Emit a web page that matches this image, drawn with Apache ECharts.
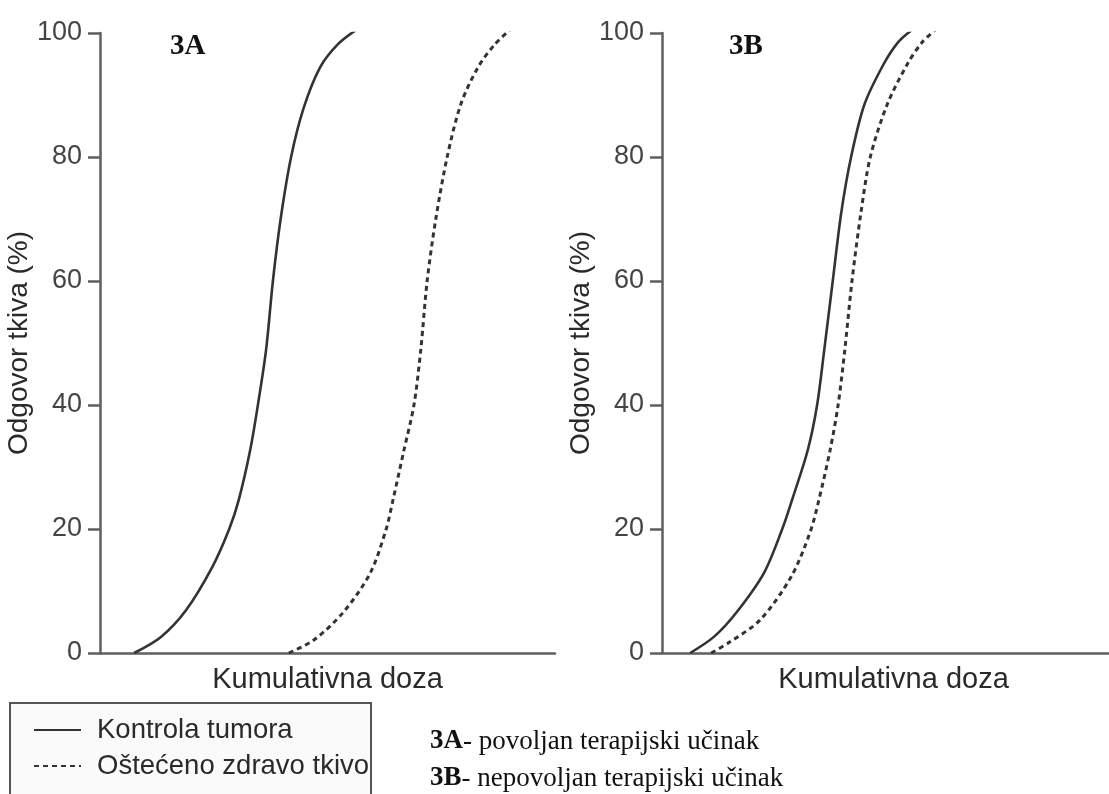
<!DOCTYPE html>
<html>
<head>
<meta charset="utf-8">
<script src="https://cdn.jsdelivr.net/npm/echarts@6/dist/echarts.min.js"></script>
<style>
html,body{margin:0;padding:0;background:#fff;}
#chart{width:1109px;height:794px;}
</style>
</head>
<body>
<div id="chart"></div>
<script>
// Dose values (x) and tissue response (%) (y)
const yTicks = [0, 20, 40, 60, 80, 100];

const leftTumorDose   = [7.5, 13.4, 18.9, 24.7, 28.4, 30.5, 33.0, 34.7, 36.5, 38.0, 39.7, 42.0, 44.8, 48.4, 52.3, 56.3];
const leftTumorResp   = [0, 2.6, 6.9, 13.9, 20, 24.7, 32.7, 40, 48.9, 60, 70, 80, 88, 94.5, 98.2, 100.5];

const leftHealthyDose = [41.5, 47.0, 53.4, 59.4, 62.9, 64.4, 66.8, 69.0, 70.5, 71.9, 73.8, 76.3, 79.3, 83.1, 86.8, 90.3];
const leftHealthyResp = [0, 2.1, 6.5, 12.9, 20, 24.7, 32.7, 40, 48.9, 60, 70, 80, 88.5, 94.5, 98.2, 100.6];

const rightTumorDose   = [6.3, 11.6, 16.6, 22.8, 26.9, 29.1, 32.6, 34.7, 36.3, 38.2, 40.1, 42.3, 45.3, 49.6, 52.8, 55.9];
const rightTumorResp   = [0, 2.6, 6.5, 12.9, 20, 24.7, 32.7, 40, 48.9, 60, 71, 80, 88.5, 95.0, 98.5, 100.5];

const rightHealthyDose = [11.0, 14.8, 21.9, 28.9, 33.1, 35.1, 37.6, 39.4, 40.9, 42.5, 44.5, 46.6, 50.4, 54.9, 58.2, 61.3];
const rightHealthyResp = [0, 1.6, 5.3, 12.3, 19.4, 24.7, 32.7, 40, 48.9, 60, 71, 80, 88.5, 95.0, 98.5, 100.6];

const seriesNames = ['Kontrola tumora', 'Oštećeno zdravo tkivo'];
const panelLabels = ['3A', '3B'];
const xAxisName = 'Kumulativna doza';
const yAxisName = 'Odgovor tkiva (%)';
const notes = ['povoljan terapijski učinak', 'nepovoljan terapijski učinak'];

const zip = (xs, ys) => xs.map((x, i) => [x, ys[i]]);

const SANS = 'Liberation Sans';
const SERIF = 'Liberation Serif';
const AX = '#5f5f5f';
const INK = '#2a2a2a';

function xAxisCfg(idx, shift) {
  return {
    gridIndex: idx, type: 'value', min: 0, max: 100,
    name: xAxisName, nameLocation: 'middle', nameGap: 12,
    nameTextStyle: {fontFamily: SANS, fontSize: 29, color: INK, verticalAlign: 'top', padding: [0, 0, 0, shift]},
    axisLine: {show: true, lineStyle: {color: AX, width: 2.5}},
    axisTick: {show: false}, axisLabel: {show: false}, splitLine: {show: false}
  };
}
function yAxisCfg(idx) {
  return {
    gridIndex: idx, type: 'value', min: 0, max: 100, interval: 20,
    name: yAxisName, nameLocation: 'middle', nameGap: 58, nameRotate: 90,
    nameTextStyle: {fontFamily: SANS, fontSize: 28, color: INK},
    axisLine: {show: true, lineStyle: {color: AX, width: 2.5}},
    axisTick: {show: true, length: 12, lineStyle: {color: AX, width: 2.5}},
    axisLabel: {fontFamily: SANS, fontSize: 27, color: '#444', margin: 18},
    splitLine: {show: false}
  };
}
function lineSeries(name, idx, data, dashed) {
  return {
    name: name, type: 'line', xAxisIndex: idx, yAxisIndex: idx,
    data: data, smooth: 0.3, symbol: 'none', showSymbol: false,
    lineStyle: {color: '#333', width: dashed ? 3 : 2.6, type: dashed ? [5, 4] : 'solid'},
    itemStyle: {color: '#333'}, silent: true
  };
}

const chart = echarts.init(document.getElementById('chart'), null, {renderer: 'canvas'});
chart.setOption({
  animation: false,
  backgroundColor: '#fff',
  grid: [
    {left: 100, top: 33, width: 455, height: 620},
    {left: 662, top: 33, width: 447, height: 620}
  ],
  xAxis: [xAxisCfg(0, 0), xAxisCfg(1, 16)],
  yAxis: [yAxisCfg(0), yAxisCfg(1)],
  graphic: [
    {type: 'rect', z: 1, silent: true,
     shape: {x: 10, y: 703, width: 361, height: 130},
     style: {fill: '#fafafa', stroke: '#555', lineWidth: 2}}
  ],
  title: [
    {text: panelLabels[0], left: 165, top: 27, textStyle: {fontFamily: SERIF, fontWeight: 'bold', fontSize: 29, color: '#111'}},
    {text: panelLabels[1], left: 724, top: 27, textStyle: {fontFamily: SERIF, fontWeight: 'bold', fontSize: 29, color: '#111'}},
    {
      text: '{b|' + panelLabels[0] + '}- ' + notes[0] + '\n{b|' + panelLabels[1] + '}- ' + notes[1],
      left: 430, top: 723, padding: 0,
      textStyle: {
        fontFamily: SERIF, fontSize: 27, fontWeight: 'normal', color: '#111', lineHeight: 37,
        rich: {b: {fontFamily: SERIF, fontSize: 27, fontWeight: 'bold', color: '#111', lineHeight: 37}}
      }
    }
  ],
  legend: {
    data: seriesNames, orient: 'vertical', left: 33, top: 716, height: 120,
    padding: 0, itemGap: 8, itemWidth: 47, itemHeight: 14,
    selectedMode: false, z: 5,
    itemStyle: {color: 'rgba(0,0,0,0)', borderWidth: 0},
    textStyle: {fontFamily: SANS, fontSize: 27.5, color: INK, lineHeight: 28, padding: [0, 0, 0, 11]}
  },
  series: [
    lineSeries(seriesNames[0], 0, zip(leftTumorDose, leftTumorResp), false),
    lineSeries(seriesNames[1], 0, zip(leftHealthyDose, leftHealthyResp), true),
    lineSeries(seriesNames[0], 1, zip(rightTumorDose, rightTumorResp), false),
    lineSeries(seriesNames[1], 1, zip(rightHealthyDose, rightHealthyResp), true)
  ]
});
</script>
</body>
</html>
